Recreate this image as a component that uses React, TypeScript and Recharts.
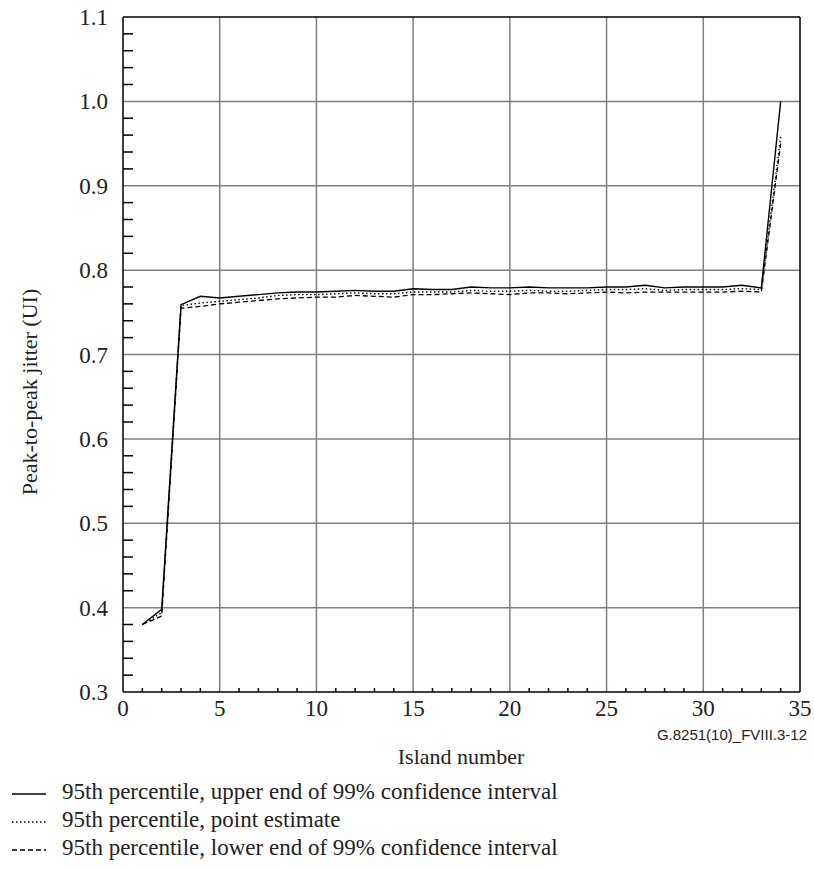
import React from "react";
import {
  LineChart,
  Line,
  XAxis,
  YAxis,
  CartesianGrid,
  ReferenceLine,
} from "recharts";

// island numbers
const islands = [
  1, 2, 3, 4, 5, 6, 7, 8, 9, 10, 11, 12, 13, 14, 15, 16, 17, 18, 19, 20, 21,
  22, 23, 24, 25, 26, 27, 28, 29, 30, 31, 32, 33, 34,
];

// 95th percentile, upper end of 99% confidence interval
const upperEnd = [
  0.38, 0.398, 0.759, 0.769, 0.767, 0.769, 0.771, 0.773, 0.774, 0.774, 0.775,
  0.776, 0.775, 0.775, 0.778, 0.777, 0.777, 0.78, 0.779, 0.779, 0.78, 0.779,
  0.779, 0.779, 0.78, 0.78, 0.782, 0.779, 0.78, 0.78, 0.78, 0.782, 0.779, 1.0,
];

// 95th percentile, point estimate
const pointEstimate = [
  0.38, 0.394, 0.758, 0.761, 0.763, 0.765, 0.767, 0.77, 0.771, 0.771, 0.772,
  0.773, 0.772, 0.772, 0.774, 0.774, 0.774, 0.776, 0.775, 0.775, 0.776, 0.775,
  0.775, 0.776, 0.777, 0.777, 0.778, 0.776, 0.777, 0.777, 0.777, 0.778, 0.777,
  0.958,
];

// 95th percentile, lower end of 99% confidence interval
const lowerEnd = [
  0.38, 0.39, 0.755, 0.757, 0.76, 0.762, 0.764, 0.766, 0.767, 0.768, 0.768,
  0.77, 0.769, 0.768, 0.771, 0.771, 0.772, 0.773, 0.772, 0.771, 0.773, 0.773,
  0.772, 0.773, 0.774, 0.773, 0.774, 0.774, 0.774, 0.774, 0.774, 0.775, 0.774,
  0.95,
];

const xMajor = [0, 5, 10, 15, 20, 25, 30, 35];
const yMajor = [0.3, 0.4, 0.5, 0.6, 0.7, 0.8, 0.9, 1.0, 1.1];
const yLabels = ["0.3", "0.4", "0.5", "0.6", "0.7", "0.8", "0.9", "1.0", "1.1"];

const xMinor = Array.from({ length: 36 }, (_, i) => i);
const yMinor = Array.from({ length: 41 }, (_, i) => Math.round((0.3 + i * 0.02) * 100) / 100);

const legendItems = [
  { label: "95th percentile, upper end of 99% confidence interval", dash: "" },
  { label: "95th percentile, point estimate", dash: "1.5 2.5" },
  { label: "95th percentile, lower end of 99% confidence interval", dash: "5 3" },
];

const data = islands.map((n, i) => ({
  island: n,
  upper: upperEnd[i],
  point: pointEstimate[i],
  lower: lowerEnd[i],
}));

const serif = "Liberation Serif, Tinos, DejaVu Serif, Noto Serif, serif";

const isMajorY = (v: number) => yMajor.some((m) => Math.abs(m - v) < 1e-6);

function YTick(props: any) {
  const { x, y, payload } = props;
  const v = payload.value;
  const idx = yMajor.findIndex((m) => Math.abs(m - v) < 1e-6);
  if (idx >= 0) {
    return (
      <text x={x - 15} y={y + 8} textAnchor="end" fontSize={23} fill="#222" style={{ fontFamily: serif }}>
        {yLabels[idx]}
      </text>
    );
  }
  return <line x1={x} y1={y} x2={x + 10} y2={y} stroke="#000" strokeWidth={1.5} />;
}

function XTick(props: any) {
  const { x, y, payload } = props;
  const v = payload.value;
  if (xMajor.includes(v)) {
    return (
      <text x={x} y={y + 24} textAnchor="middle" fontSize={23} fill="#222" style={{ fontFamily: serif }}>
        {v}
      </text>
    );
  }
  return <line x1={x} y1={y} x2={x} y2={y - 4} stroke="#000" strokeWidth={1.5} />;
}

export default function App() {
  return (
    <div
      style={{
        position: "absolute",
        left: 0,
        top: 0,
        width: 814,
        height: 870,
        background: "#fff",
        fontFamily: serif,
        color: "#222",
      }}
    >
      <LineChart
        width={814}
        height={870}
        data={data}
        margin={{ top: 17, right: 14, left: 63, bottom: 148 }}
      >
        <CartesianGrid
          stroke="#808080"
          strokeWidth={1.5}
          horizontalValues={[0.4, 0.5, 0.6, 0.7, 0.8, 0.9, 1.0]}
          verticalValues={[5, 10, 15, 20, 25, 30]}
        />
        <XAxis
          dataKey="island"
          type="number"
          domain={[0, 35]}
          ticks={xMinor}
          interval={0}
          height={30}
          tickSize={0}
          tickMargin={0}
          tickLine={false}
          axisLine={{ stroke: "#000", strokeWidth: 1.5 }}
          tick={<XTick />}
        />
        <YAxis
          type="number"
          domain={[0.3, 1.1]}
          ticks={yMinor.filter((v) => !isMajorY(v)).concat(yMajor)}
          interval={0}
          width={60}
          tickSize={0}
          tickMargin={0}
          tickLine={false}
          axisLine={{ stroke: "#000", strokeWidth: 1.5 }}
          tick={<YTick />}
        />
        <ReferenceLine y={1.1} stroke="#000" strokeWidth={1.5} />
        <ReferenceLine x={35} stroke="#000" strokeWidth={1.5} />
        <Line
          type="linear"
          dataKey="lower"
          stroke="#000"
          strokeWidth={1.3}
          strokeDasharray="5 3"
          dot={false}
          isAnimationActive={false}
        />
        <Line
          type="linear"
          dataKey="point"
          stroke="#000"
          strokeWidth={1.4}
          strokeDasharray="1.5 2.5"
          dot={false}
          isAnimationActive={false}
        />
        <Line
          type="linear"
          dataKey="upper"
          stroke="#000"
          strokeWidth={1.4}
          dot={false}
          isAnimationActive={false}
        />
      </LineChart>

      <div
        style={{
          position: "absolute",
          left: 30,
          top: 392,
          transform: "translate(-50%, -50%) rotate(-90deg)",
          whiteSpace: "nowrap",
          fontSize: 22,
        }}
      >
        Peak-to-peak jitter (UI)
      </div>

      <div
        style={{
          position: "absolute",
          right: 7,
          top: 734,
          transform: "translateY(-50%)",
          fontFamily: "Liberation Sans, Arimo, Arial, sans-serif",
          fontSize: 15,
          whiteSpace: "nowrap",
        }}
      >
        G.8251(10)_FVIII.3-12
      </div>

      <div
        style={{
          position: "absolute",
          left: 461,
          top: 757,
          transform: "translate(-50%, -50%)",
          whiteSpace: "nowrap",
          fontSize: 22,
        }}
      >
        Island number
      </div>

      {legendItems.map((item, i) => (
        <div
          key={item.label}
          style={{
            position: "absolute",
            left: 10,
            top: 792 + i * 28,
            transform: "translateY(-50%)",
            display: "flex",
            alignItems: "center",
            whiteSpace: "nowrap",
            fontSize: 23,
          }}
        >
          <svg width={40} height={10} style={{ marginRight: 12, marginTop: 4 }}>
            <line
              x1={2}
              y1={5}
              x2={36}
              y2={5}
              stroke="#000"
              strokeWidth={1.3}
              strokeDasharray={item.dash || undefined}
            />
          </svg>
          {item.label}
        </div>
      ))}
    </div>
  );
}
